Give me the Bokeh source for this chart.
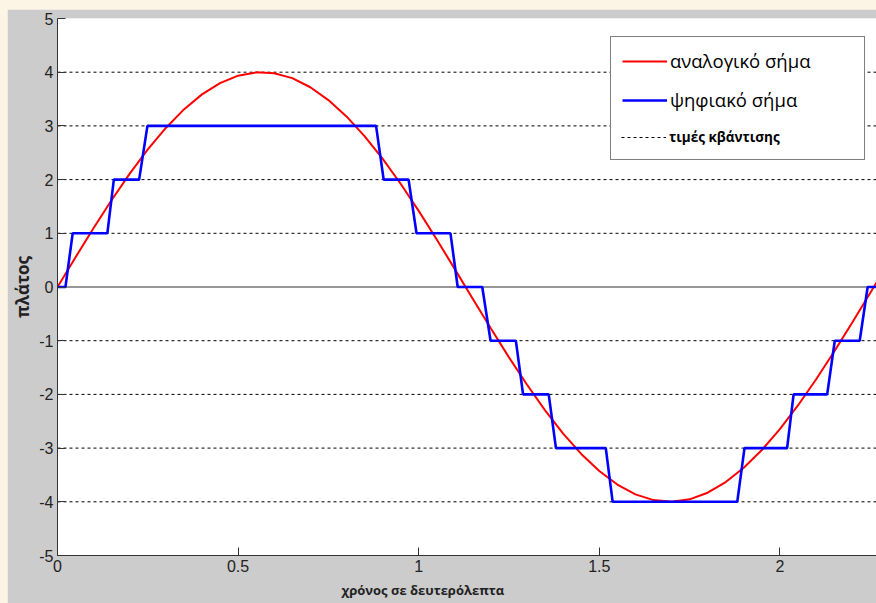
from bokeh.plotting import figure
from bokeh.models import Legend, LegendItem, FixedTicker, Range1d, Title
from bokeh.embed import file_html
from bokeh.resources import INLINE

# ---- data ----
t_analog = [0.00, 0.05, 0.10, 0.15, 0.20, 0.25, 0.30, 0.35, 0.40, 0.45, 0.50, 0.55,
            0.60, 0.65, 0.70, 0.75, 0.80, 0.85, 0.90, 0.95, 1.00, 1.05, 1.10, 1.15,
            1.20, 1.25, 1.30, 1.35, 1.40, 1.45, 1.50, 1.55, 1.60, 1.65, 1.70, 1.75,
            1.80, 1.85, 1.90, 1.95, 2.00, 2.05, 2.10, 2.15, 2.20, 2.25, 2.27]
y_analog = [0.000, 0.554, 1.098, 1.620, 2.112, 2.562, 2.962, 3.307, 3.587, 3.797, 3.935, 3.997,
            3.982, 3.889, 3.720, 3.481, 3.177, 2.810, 2.390, 1.922, 1.418, 0.886, 0.333, -0.222,
            -0.774, -1.310, -1.821, -2.297, -2.729, -3.108, -3.427, -3.679, -3.861, -3.968, -4.000, -3.954,
            -3.831, -3.632, -3.366, -3.037, -2.646, -2.206, -1.722, -1.205, -0.665, -0.111, 0.111]

t_digital = [0.000, 0.022, 0.042, 0.138, 0.156, 0.226, 0.249, 0.882, 0.903, 0.972,
             0.994, 1.088, 1.108, 1.176, 1.199, 1.269, 1.289, 1.360, 1.380, 1.518,
             1.537, 1.882, 1.902, 2.020, 2.038, 2.131, 2.152, 2.221, 2.243, 2.267]
y_digital = [0, 0, 1, 1, 2, 2, 3, 3, 2, 2,
             1, 1, 0, 0, -1, -1, -2, -2, -3, -3,
             -4, -4, -3, -3, -2, -2, -1, -1, 0, 0]

levels = [-4, -3, -2, -1, 1, 2, 3, 4]
x_ticks = [0, 0.5, 1, 1.5, 2]
x_tick_labels = ["0", "0.5", "1", "1.5", "2"]
y_ticks = [-5, -4, -3, -2, -1, 0, 1, 2, 3, 4, 5]
y_tick_labels = ["-5", "-4", "-3", "-2", "-1", "0", "1", "2", "3", "4", "5"]
x_start, x_end = 0.0, 2.2675
y_start, y_end = -5.0, 5.0

label_analog = "αναλογικό σήμα"
label_digital = "ψηφιακό σήμα"
label_levels = "τιμές κβάντισης"
x_title = "χρόνος σε δευτερόλεπτα"
y_title = "πλάτος"

# ---- figure ----
p = figure(width=869, height=594, output_backend="svg", toolbar_location=None,
           x_range=Range1d(x_start, x_end), y_range=Range1d(y_start, y_end),
           min_border_left=50, min_border_right=0, min_border_top=9, min_border_bottom=48)
p.margin = (9, 0, 0, 7)
p.border_fill_color = "#cccccc"
p.background_fill_color = "white"
p.outline_line_color = None
p.xgrid.visible = False
p.ygrid.visible = False

for ax in (p.xaxis[0], p.yaxis[0]):
    ax.axis_line_color = "#333333"
    ax.major_tick_line_color = "#333333"
    ax.major_tick_in = 8
    ax.major_tick_out = 0
    ax.minor_tick_in = 0
    ax.minor_tick_out = 0
    ax.major_label_text_font = "Liberation Sans"
    ax.major_label_text_font_size = "16px"
    ax.major_label_text_color = "#222222"
    ax.major_label_standoff = 4
p.xaxis[0].ticker = FixedTicker(ticks=x_ticks)
p.yaxis[0].ticker = FixedTicker(ticks=y_ticks)
p.xaxis[0].major_label_overrides = dict(zip(x_ticks, x_tick_labels))
p.yaxis[0].major_label_overrides = dict(zip(y_ticks, y_tick_labels))

p.yaxis[0].axis_label = y_title
p.yaxis[0].axis_label_text_font = "Open Sans"
p.yaxis[0].axis_label_text_font_style = "bold"
p.yaxis[0].axis_label_text_font_size = "17px"
p.yaxis[0].axis_label_text_color = "#222222"
p.yaxis[0].axis_label_standoff = 2

xt = Title(text=x_title, align="left", offset=284, standoff=8,
           text_font="Open Sans", text_font_style="bold", text_font_size="13px",
           text_color="#222222")
p.add_layout(xt, "below")

# quantization levels (dashed) and zero line
lv = p.segment(x0=[x_start] * len(levels), x1=[x_end] * len(levels), y0=levels, y1=levels,
               line_color="black", line_width=1, line_dash="3 3")
p.segment(x0=[x_start], x1=[x_end], y0=[0], y1=[0], line_color="#333333", line_width=1.2)
blank = p.segment(x0=[], x1=[], y0=[], y1=[], line_alpha=0)

red = p.line(t_analog, y_analog, line_color="#ff0000", line_width=2)
blue = p.line(t_digital, y_digital, line_color="#0000ff", line_width=2.6)

legend = Legend(items=[LegendItem(label=label_analog, renderers=[red]),
                       LegendItem(label=label_digital, renderers=[blue]),
                       LegendItem(label=" ", renderers=[blank])],
                location=(553, 395), orientation="vertical",
                glyph_width=45, glyph_height=22, label_height=22, spacing=14, padding=11,
                label_standoff=3, label_width=183,
                label_text_font="Open Sans", label_text_font_size="18.5px", label_text_color="black",
                border_line_color="black", border_line_width=1, background_fill_color="white",
                background_fill_alpha=1.0)
p.add_layout(legend, "center")

legend2 = Legend(items=[LegendItem(label=label_levels, renderers=[lv])],
                 location=(564, 407), orientation="vertical",
                 glyph_width=45, glyph_height=22, label_height=22, spacing=0, padding=0,
                 label_standoff=3, label_text_font="Open Sans", label_text_font_style="bold",
                 label_text_font_size="13.5px", label_text_color="black",
                 border_line_alpha=0, background_fill_alpha=0)
p.add_layout(legend2, "center")

html = file_html(p, INLINE)
html = html.replace("<head>", "<head><style>html,body{margin:0;padding:0;background:#fcf5e6;}</style>", 1)
open("out.html", "w").write(html)
